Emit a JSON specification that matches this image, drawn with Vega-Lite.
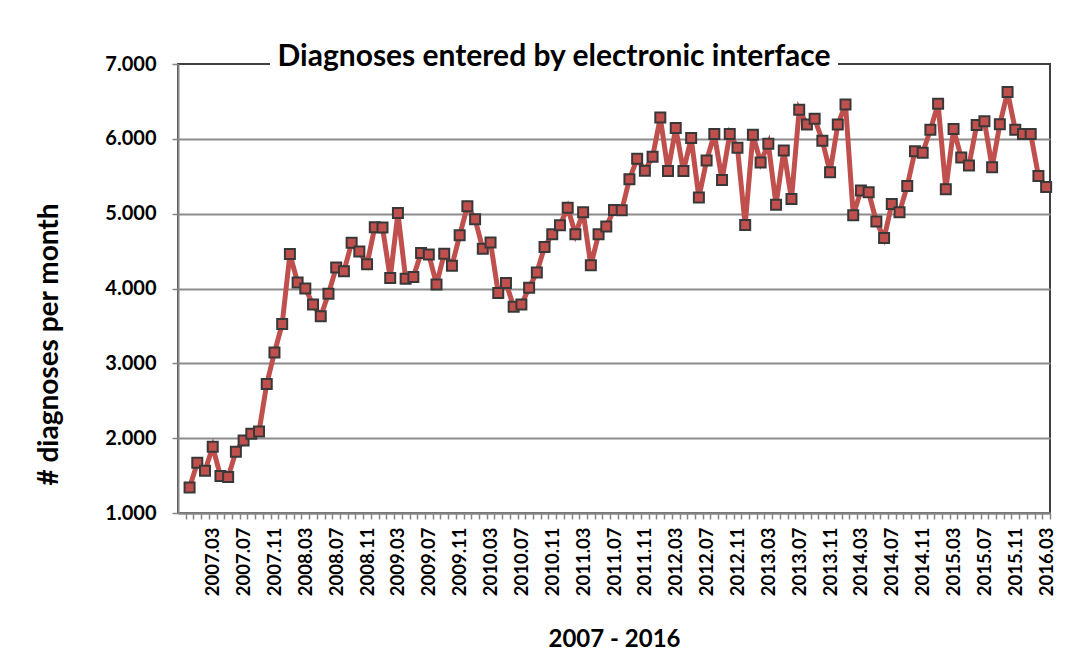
{
  "$schema": "https://vega.github.io/schema/vega-lite/v6.json",
  "width": 872,
  "height": 449,
  "autosize": {"type": "none"},
  "padding": {"left": 178, "top": 64, "right": 22, "bottom": 159},
  "background": "white",
  "title": {
    "text": "Diagnoses entered by electronic interface",
    "anchor": "middle",
    "frame": "group",
    "dx": -60,
    "offset": -42,
    "baseline": "alphabetic",
    "font": "Lato",
    "fontSize": 30,
    "fontWeight": "bold",
    "color": "black"
  },
  "data": {
    "values": [
      {"month": "2006.12", "diagnoses": 1340},
      {"month": "2007.01", "diagnoses": 1670},
      {"month": "2007.02", "diagnoses": 1565},
      {"month": "2007.03", "diagnoses": 1885},
      {"month": "2007.04", "diagnoses": 1495},
      {"month": "2007.05", "diagnoses": 1480},
      {"month": "2007.06", "diagnoses": 1820},
      {"month": "2007.07", "diagnoses": 1970},
      {"month": "2007.08", "diagnoses": 2060},
      {"month": "2007.09", "diagnoses": 2090},
      {"month": "2007.10", "diagnoses": 2725},
      {"month": "2007.11", "diagnoses": 3145},
      {"month": "2007.12", "diagnoses": 3525},
      {"month": "2008.01", "diagnoses": 4460},
      {"month": "2008.02", "diagnoses": 4080},
      {"month": "2008.03", "diagnoses": 4000},
      {"month": "2008.04", "diagnoses": 3785},
      {"month": "2008.05", "diagnoses": 3630},
      {"month": "2008.06", "diagnoses": 3930},
      {"month": "2008.07", "diagnoses": 4280},
      {"month": "2008.08", "diagnoses": 4230},
      {"month": "2008.09", "diagnoses": 4610},
      {"month": "2008.10", "diagnoses": 4495},
      {"month": "2008.11", "diagnoses": 4325},
      {"month": "2008.12", "diagnoses": 4820},
      {"month": "2009.01", "diagnoses": 4815},
      {"month": "2009.02", "diagnoses": 4140},
      {"month": "2009.03", "diagnoses": 5010},
      {"month": "2009.04", "diagnoses": 4130},
      {"month": "2009.05", "diagnoses": 4155},
      {"month": "2009.06", "diagnoses": 4475},
      {"month": "2009.07", "diagnoses": 4455},
      {"month": "2009.08", "diagnoses": 4055},
      {"month": "2009.09", "diagnoses": 4465},
      {"month": "2009.10", "diagnoses": 4305},
      {"month": "2009.11", "diagnoses": 4710},
      {"month": "2009.12", "diagnoses": 5100},
      {"month": "2010.01", "diagnoses": 4925},
      {"month": "2010.02", "diagnoses": 4530},
      {"month": "2010.03", "diagnoses": 4615},
      {"month": "2010.04", "diagnoses": 3940},
      {"month": "2010.05", "diagnoses": 4075},
      {"month": "2010.06", "diagnoses": 3755},
      {"month": "2010.07", "diagnoses": 3785},
      {"month": "2010.08", "diagnoses": 4010},
      {"month": "2010.09", "diagnoses": 4215},
      {"month": "2010.10", "diagnoses": 4555},
      {"month": "2010.11", "diagnoses": 4725},
      {"month": "2010.12", "diagnoses": 4845},
      {"month": "2011.01", "diagnoses": 5080},
      {"month": "2011.02", "diagnoses": 4725},
      {"month": "2011.03", "diagnoses": 5020},
      {"month": "2011.04", "diagnoses": 4310},
      {"month": "2011.05", "diagnoses": 4725},
      {"month": "2011.06", "diagnoses": 4830},
      {"month": "2011.07", "diagnoses": 5050},
      {"month": "2011.08", "diagnoses": 5045},
      {"month": "2011.09", "diagnoses": 5460},
      {"month": "2011.10", "diagnoses": 5735},
      {"month": "2011.11", "diagnoses": 5575},
      {"month": "2011.12", "diagnoses": 5760},
      {"month": "2012.01", "diagnoses": 6285},
      {"month": "2012.02", "diagnoses": 5570},
      {"month": "2012.03", "diagnoses": 6145},
      {"month": "2012.04", "diagnoses": 5570},
      {"month": "2012.05", "diagnoses": 6010},
      {"month": "2012.06", "diagnoses": 5215},
      {"month": "2012.07", "diagnoses": 5710},
      {"month": "2012.08", "diagnoses": 6065},
      {"month": "2012.09", "diagnoses": 5450},
      {"month": "2012.10", "diagnoses": 6065},
      {"month": "2012.11", "diagnoses": 5880},
      {"month": "2012.12", "diagnoses": 4850},
      {"month": "2013.01", "diagnoses": 6055},
      {"month": "2013.02", "diagnoses": 5685},
      {"month": "2013.03", "diagnoses": 5935},
      {"month": "2013.04", "diagnoses": 5120},
      {"month": "2013.05", "diagnoses": 5845},
      {"month": "2013.06", "diagnoses": 5195},
      {"month": "2013.07", "diagnoses": 6390},
      {"month": "2013.08", "diagnoses": 6190},
      {"month": "2013.09", "diagnoses": 6270},
      {"month": "2013.10", "diagnoses": 5975},
      {"month": "2013.11", "diagnoses": 5555},
      {"month": "2013.12", "diagnoses": 6190},
      {"month": "2014.01", "diagnoses": 6460},
      {"month": "2014.02", "diagnoses": 4980},
      {"month": "2014.03", "diagnoses": 5310},
      {"month": "2014.04", "diagnoses": 5285},
      {"month": "2014.05", "diagnoses": 4895},
      {"month": "2014.06", "diagnoses": 4675},
      {"month": "2014.07", "diagnoses": 5130},
      {"month": "2014.08", "diagnoses": 5020},
      {"month": "2014.09", "diagnoses": 5370},
      {"month": "2014.10", "diagnoses": 5835},
      {"month": "2014.11", "diagnoses": 5815},
      {"month": "2014.12", "diagnoses": 6120},
      {"month": "2015.01", "diagnoses": 6470},
      {"month": "2015.02", "diagnoses": 5325},
      {"month": "2015.03", "diagnoses": 6130},
      {"month": "2015.04", "diagnoses": 5750},
      {"month": "2015.05", "diagnoses": 5645},
      {"month": "2015.06", "diagnoses": 6185},
      {"month": "2015.07", "diagnoses": 6235},
      {"month": "2015.08", "diagnoses": 5620},
      {"month": "2015.09", "diagnoses": 6195},
      {"month": "2015.10", "diagnoses": 6625},
      {"month": "2015.11", "diagnoses": 6120},
      {"month": "2015.12", "diagnoses": 6065},
      {"month": "2016.01", "diagnoses": 6065},
      {"month": "2016.02", "diagnoses": 5505},
      {"month": "2016.03", "diagnoses": 5355}
    ]
  },
  "encoding": {
    "x": {
      "field": "month",
      "type": "ordinal",
      "scale": {"paddingInner": 0, "paddingOuter": 0.5, "align": 1},
      "axis": {
        "title": "2007 - 2016",
        "titleFont": "Lato",
        "titleFontSize": 24,
        "titleFontWeight": "bold",
        "titleColor": "black",
        "titleY": 133,
        "titleBaseline": "alphabetic",
        "labelAngle": 270,
        "labelExpr": "indexof(['03','07','11'], slice(datum.label, 5)) >= 0 ? datum.label : ''",
        "labelOverlap": false,
        "labelFont": "Lato",
        "labelFontSize": 18.5,
        "labelFontWeight": "bold",
        "labelColor": "black",
        "labelPadding": 8,
        "tickBand": "extent",
        "tickSize": 6,
        "tickColor": "#868686",
        "tickWidth": 1.5,
        "domainColor": "#868686",
        "domainWidth": 2,
        "grid": false
      }
    },
    "y": {
      "field": "diagnoses",
      "type": "quantitative",
      "scale": {"domain": [1000, 7000], "nice": false, "zero": false},
      "axis": {
        "title": "# diagnoses per month",
        "titleFont": "Lato",
        "titleFontSize": 28,
        "titleFontWeight": "bold",
        "titleColor": "black",
        "titleX": -115,
        "titleY": 280,
        "titleAngle": 270,
        "titleAlign": "center",
        "titleBaseline": "bottom",
        "values": [1000, 2000, 3000, 4000, 5000, 6000, 7000],
        "labelExpr": "replace(format(datum.value, ','), ',', '.')",
        "labelFont": "Lato",
        "labelFontSize": 20,
        "labelFontWeight": "bold",
        "labelColor": "black",
        "labelPadding": 16,
        "tickSize": 6,
        "tickColor": "#868686",
        "tickWidth": 1.5,
        "domainColor": "#868686",
        "domainWidth": 2,
        "grid": true,
        "gridColor": "#8c8c8c",
        "gridWidth": 2,
        "gridOpacity": {"condition": {"test": "datum.value >= 7000", "value": 0}, "value": 1}
      }
    }
  },
  "layer": [
    {"mark": {"type": "line", "color": "#C0504D", "strokeWidth": 5}},
    {"mark": {"type": "point", "shape": "square", "filled": true, "fill": "#C0504D", "stroke": "#383838", "strokeWidth": 2, "size": 100, "opacity": 1}}
  ],
  "config": {
    "view": {"stroke": "#404040", "strokeWidth": 2, "strokeDash": [92, 568, 1982]}
  }
}
